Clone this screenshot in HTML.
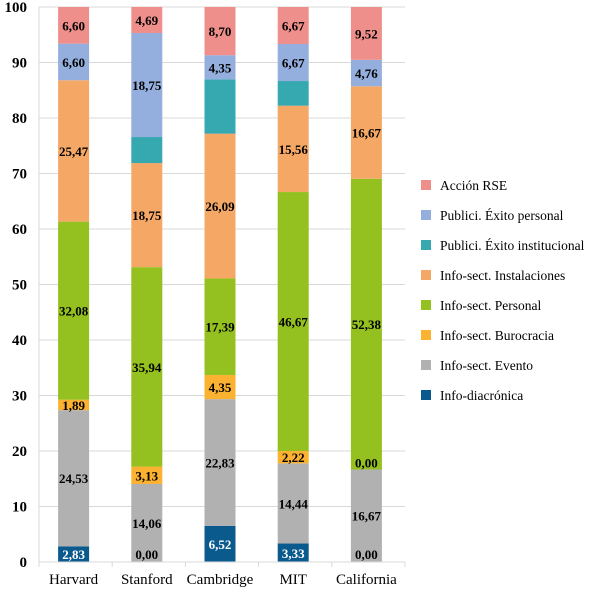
<!DOCTYPE html>
<html><head><meta charset="utf-8"><style>
body{margin:0;background:#fff;font-family:"Liberation Serif",serif}
svg text{font-family:"Liberation Serif",serif}
</style></head><body>
<svg id="chart" width="608" height="590"></svg>
<script>
const categories=["Harvard","Stanford","Cambridge","MIT","California"];
const seriesNames=["Info-diacrónica","Info-sect. Evento","Info-sect. Burocracia","Info-sect. Personal","Info-sect. Instalaciones","Publici. Éxito institucional","Publici. Éxito personal","Acción RSE"];
const colors=["#0b5a8e","#b1b1b1","#fbb231","#94c11f","#f5a766","#36a8b0","#94aedd","#ef8f8b"];
const diacronica=[2.83,0,6.52,3.33,0];
const evento=[24.53,14.06,22.83,14.44,16.67];
const burocracia=[1.89,3.13,4.35,2.22,0];
const personal=[32.08,35.94,17.39,46.67,52.38];
const instalaciones=[25.47,18.75,26.09,15.56,16.67];
const exitoInst=[0,4.69,9.78,4.44,0];
const exitoPers=[6.60,18.75,4.35,6.67,4.76];
const rse=[6.60,4.69,8.70,6.67,9.52];
const series=[diacronica,evento,burocracia,personal,instalaciones,exitoInst,exitoPers,rse];
const showLabel=[true,true,true,true,true,false,true,true];
const yTicks=[0,10,20,30,40,50,60,70,80,90,100];
const NS="http://www.w3.org/2000/svg";
const svg=document.getElementById('chart');
const X0=39,X1=405,Y0=562,Y1=7;
const y=v=>Y0-(v/100)*(Y0-Y1);
const bw=(X1-X0)/categories.length;
const xc=i=>X0+bw*(i+0.5)-2;
function mk(t,a){const e=document.createElementNS(NS,t);for(const k in a)e.setAttribute(k,a[k]);svg.appendChild(e);return e;}
yTicks.forEach(t=>{
 const l=mk('line',{x1:X0,x2:X1,y1:y(t),y2:y(t),stroke:'#d9d9d9','stroke-width':1});
 
 
 const tx=mk('text',{x:27,y:y(t)+5,'text-anchor':'end','font-size':15,'font-weight':'bold'});
 tx.textContent=t;
 
 
});
const ax=mk('line',{x1:X0,x2:X0,y1:Y1,y2:Y0,stroke:'#d9d9d9'});


const labels=[];
categories.forEach((c,i)=>{
 let acc=0;
 series.forEach((s,k)=>{
  const v=s[i];
  const r=mk('rect',{x:xc(i)-15.5,y:y(acc+v),width:31,height:y(acc)-y(acc+v),fill:colors[k]});
  
  
  if(showLabel[k]&&(v>0||k===0||k===2)){
   if(!(k===2&&v===0&&i!==4)){
    let ly;
    if(v===0&&k===0) ly=y(0)-3;
    else if(v===0) ly=y(acc)-2;
    else ly=(y(acc)+y(acc+v))/2+5;
    labels.push({x:xc(i),y:ly,v:v,white:(k===0&&v>0)});
   }
  }
  acc+=v;
 });
 const ct=mk('text',{x:xc(i),y:584,'text-anchor':'middle','font-size':15});
 ct.textContent=c;
 
 
});
labels.forEach(L=>{
 const t=mk('text',{x:L.x,y:L.y,'text-anchor':'middle','font-size':13,'font-weight':'bold',fill:L.white?'#fff':'#000'});
 t.textContent=L.v.toFixed(2).replace('.',',');
 
 
});
const bx=mk('line',{x1:X0,x2:X1,y1:Y0,y2:Y0,stroke:'#d9d9d9'});


for(let i=0;i<=categories.length;i++){
 const tk=mk('line',{x1:X0+bw*i,x2:X0+bw*i,y1:Y0,y2:Y0+5,stroke:'#d9d9d9'});
 
 
}
for(let k=seriesNames.length-1;k>=0;k--){
 const ly=185+(seriesNames.length-1-k)*30;
 const r=mk('rect',{x:421,y:ly-5,width:10,height:10,fill:colors[k]});
 
 
 const t=mk('text',{x:440,y:ly+5,'font-size':13.5});
 t.textContent=seriesNames[k];
 
 
}
</script>
</body></html>
